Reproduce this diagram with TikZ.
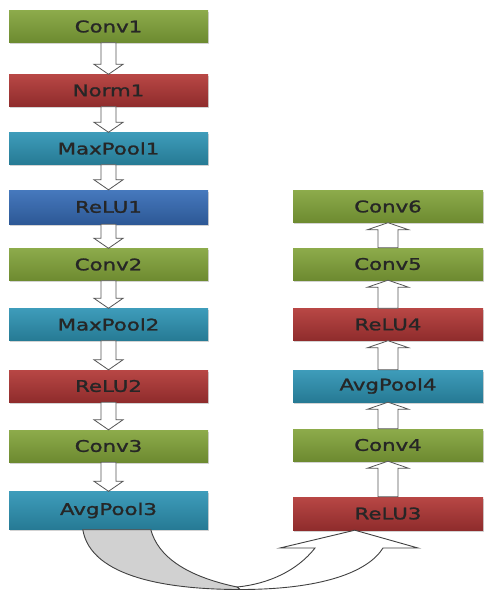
\documentclass[tikz,border=0pt]{standalone}
\usepackage{fontspec}
\newfontfamily\layerfont[FakeStretch=1.33, FakeBold=1.4]{DejaVu Sans}
\usetikzlibrary{calc, shadows}

\definecolor{convtop}{HTML}{8DAB4B}
\definecolor{convbot}{HTML}{6D8A30}
\definecolor{relutop}{HTML}{B84745}
\definecolor{relubot}{HTML}{8F2C2C}
\definecolor{pooltop}{HTML}{3E9CBA}
\definecolor{poolbot}{HTML}{267A94}
\definecolor{bluetop}{HTML}{4679BD}
\definecolor{bluebot}{HTML}{2D5896}
\definecolor{edgegray}{HTML}{555555}

\tikzset{
  layer/.style={rectangle, minimum height=32pt, inner sep=0pt,
    font=\layerfont\fontsize{16}{18}\selectfont, text=black!85,
    drop shadow={shadow xshift=1pt, shadow yshift=-1.5pt, opacity=0.35}},
  leftcol/.style={minimum width=199pt},
  rightcol/.style={minimum width=190pt},
  conv/.style={top color=convtop, bottom color=convbot},
  relu/.style={top color=relutop, bottom color=relubot},
  pool/.style={top color=pooltop, bottom color=poolbot},
  reluone/.style={top color=bluetop, bottom color=bluebot},
  hollowarrow/.style={draw=edgegray, fill=white, line width=0.8pt, line join=miter},
  uturn/.style={draw=black!75, line width=0.9pt}
}

% block arrow from #1 to #2: half shaft #3, half head #4, head length #5
\newcommand{\blockarrow}[5]{%
  \draw[hollowarrow] let \p1=(#1), \p2=(#2), \n1={ifthenelse(\y2>\y1,1,-1)} in
    (\x2-#3, \y1) -- (\x2-#3, {\y2-\n1*#5}) -- (\x2-#4, {\y2-\n1*#5}) -- (\x2, \y2)
    -- (\x2+#4, {\y2-\n1*#5}) -- (\x2+#3, {\y2-\n1*#5}) -- (\x2+#3, \y1) -- cycle;}

\begin{document}
\begin{tikzpicture}[x=1pt, y=-1pt]
    \useasboundingbox (0,0) rectangle (485,591);

    % left column, top to bottom
    \node[layer, leftcol, conv]    (conv1)    at (108.5, 26.5) {Conv1};
    \node[layer, leftcol, relu]    (norm1)    at (108.5, 90.5) {Norm1};
    \node[layer, leftcol, pool]    (maxpool1) at (108.5, 148.5) {MaxPool1};
    \node[layer, leftcol, reluone, minimum height=34pt] (relu1) at (108.5, 207) {ReLU1};
    \node[layer, leftcol, conv]    (conv2)    at (108.5, 264.5) {Conv2};
    \node[layer, leftcol, pool]    (maxpool2) at (108.5, 324.5) {MaxPool2};
    \node[layer, leftcol, relu]    (relu2)    at (108.5, 386) {ReLU2};
    \node[layer, leftcol, conv]    (conv3)    at (108.5, 446) {Conv3};
    \node[layer, leftcol, pool, minimum height=38pt] (avgpool3) at (108.5, 510.5) {AvgPool3};

    % right column, bottom to top
    \node[layer, rightcol, relu, minimum height=33pt] (relu3) at (388, 513.5) {ReLU3};
    \node[layer, rightcol, conv]   (conv4)    at (388, 445) {Conv4};
    \node[layer, rightcol, pool]   (avgpool4) at (388, 386) {AvgPool4};
    \node[layer, rightcol, relu]   (relu4)    at (388, 324.5) {ReLU4};
    \node[layer, rightcol, conv]   (conv5)    at (388, 264) {Conv5};
    \node[layer, rightcol, conv]   (conv6)    at (388, 206.5) {Conv6};

    \blockarrow{conv1.south}{norm1.north}{7.5pt}{14.5pt}{10pt}
    \blockarrow{norm1.south}{maxpool1.north}{7.5pt}{14.5pt}{10pt}
    \blockarrow{maxpool1.south}{relu1.north}{7.5pt}{14.5pt}{10pt}
    \blockarrow{relu1.south}{conv2.north}{7.5pt}{14.5pt}{10pt}
    \blockarrow{conv2.south}{maxpool2.north}{7.5pt}{14.5pt}{10pt}
    \blockarrow{maxpool2.south}{relu2.north}{7.5pt}{14.5pt}{10pt}
    \blockarrow{relu2.south}{conv3.north}{7.5pt}{14.5pt}{10pt}
    \blockarrow{conv3.south}{avgpool3.north}{7.5pt}{14.5pt}{10pt}

    \blockarrow{relu3.north}{conv4.south}{10pt}{20.5pt}{7pt}
    \blockarrow{conv4.north}{avgpool4.south}{10pt}{20.5pt}{7pt}
    \blockarrow{avgpool4.north}{relu4.south}{10pt}{20.5pt}{7pt}
    \blockarrow{relu4.north}{conv5.south}{10pt}{20.5pt}{7pt}
    \blockarrow{conv5.north}{conv6.south}{10pt}{20.5pt}{7pt}

    % u-turn from AvgPool3 over to ReLU3
    \coordinate (uin)  at ($(avgpool3.south west)+(74,0)$);
    \coordinate (uout) at ($(avgpool3.south west)+(142,0)$);
    \coordinate (utip) at ($(relu3.south west)+(62,0)$);
    \draw[uturn, fill=white] (240,589.5) .. controls (322,589.5) and (368,572) .. (383,548)
        -- (418,548) -- (utip) -- (280,548) -- (315,548)
        .. controls (297,571) and (268,584) .. (237,587) -- cycle;
    \draw[uturn, fill=black!18] (uin) .. controls (91,578) and (170,589.5) .. (240,589.5)
        -- (237,587) .. controls (185,576) and (158,556) .. (uout) -- cycle;
\end{tikzpicture}
\end{document}
